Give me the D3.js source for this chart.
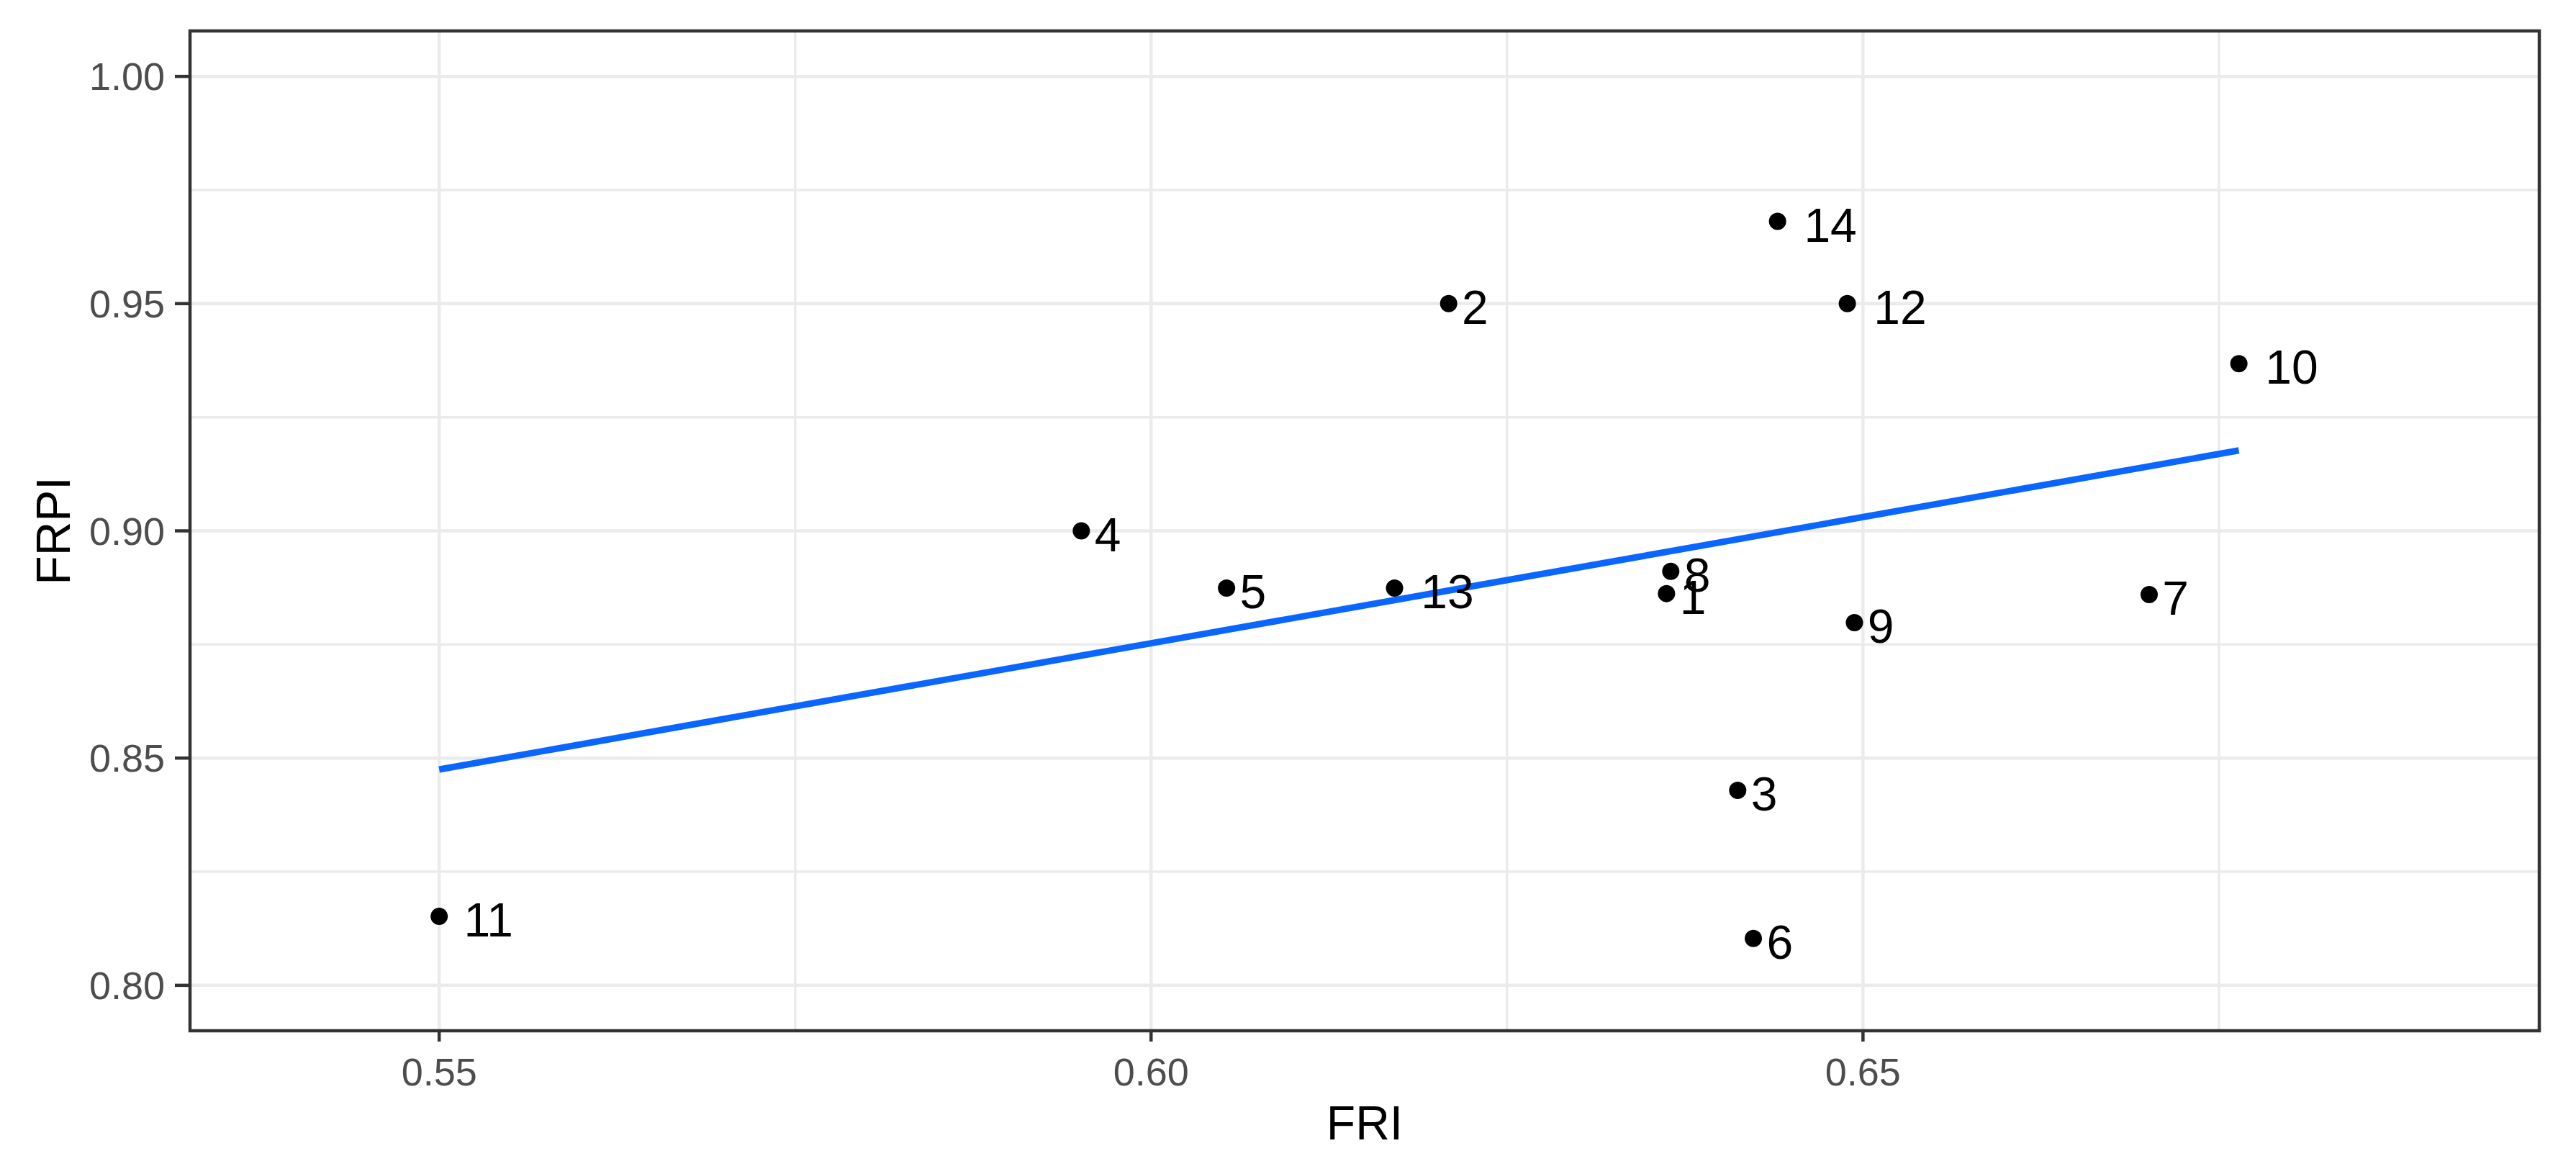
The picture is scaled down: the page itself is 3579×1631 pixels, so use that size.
<!DOCTYPE html>
<html>
<head>
<meta charset="utf-8">
<script src="https://cdn.jsdelivr.net/npm/d3@7"></script>
<style>
  html, body { margin: 0; padding: 0; background: #fff; }
  svg { display: block; }
</style>
</head>
<body>
<div id="chart"></div>
<script>
// Nuage FRI × FRPI, style ggplot theme_bw + droite de régression (lm)

// Données
const ids = ["1", "2", "3", "4", "5", "6", "7", "8", "9", "10", "11", "12", "13", "14"]
const fri = [0.6362, 0.6209, 0.6412, 0.5951, 0.6053, 0.6423, 0.6701, 0.6365, 0.6494, 0.6764, 0.5500, 0.6489, 0.6171, 0.6440]
const frpi = [0.8862, 0.9500, 0.8429, 0.9000, 0.8874, 0.8103, 0.8860, 0.8911, 0.8798, 0.9368, 0.8152, 0.9500, 0.8874, 0.9681]

// Droite ajustée (extrémités)
const fitX = [0.5500, 0.6764]
const fitY = [0.8475, 0.9177]

// Axes
const xMajor = [0.55, 0.60, 0.65]
const xMinor = [0.575, 0.625, 0.675]
const yMajor = [0.80, 0.85, 0.90, 0.95, 1.00]
const yMinor = [0.825, 0.875, 0.925, 0.975]
const xDomain = [0.5325, 0.6975]
const yDomain = [0.79, 1.01]
const xTitle = "FRI"
const yTitle = "FRPI"

const W = 3579, H = 1631
const margin = { top: 43, right: 51, bottom: 199, left: 264 }
const plotW = W - margin.left - margin.right
const plotH = H - margin.top - margin.bottom

const FONT = "'Liberation Sans', Arial, Helvetica, sans-serif"
const GRID = "#EBEBEB"
const INK = "#333333"

const svg = d3.select("#chart")
  .append("svg")
  .attr("width", W).attr("height", H)
  .attr("viewBox", `0 0 ${W} ${H}`)
  .style("background", "#fff")

const x = d3.scaleLinear().domain(xDomain).range([0, plotW])
const y = d3.scaleLinear().domain(yDomain).range([plotH, 0])

const g = svg.append("g").attr("transform", `translate(${margin.left},${margin.top})`)

// Grille : mineure puis majeure
g.append("g").selectAll("line.vminor").data(xMinor).join("line")
  .attr("x1", (d) => x(d)).attr("x2", (d) => x(d))
  .attr("y1", 0).attr("y2", plotH)
  .attr("stroke", GRID).attr("stroke-width", 3.5)
g.append("g").selectAll("line.hminor").data(yMinor).join("line")
  .attr("y1", (d) => y(d)).attr("y2", (d) => y(d))
  .attr("x1", 0).attr("x2", plotW)
  .attr("stroke", GRID).attr("stroke-width", 3.5)
g.append("g").selectAll("line.vmajor").data(xMajor).join("line")
  .attr("x1", (d) => x(d)).attr("x2", (d) => x(d))
  .attr("y1", 0).attr("y2", plotH)
  .attr("stroke", GRID).attr("stroke-width", 4.5)
g.append("g").selectAll("line.hmajor").data(yMajor).join("line")
  .attr("y1", (d) => y(d)).attr("y2", (d) => y(d))
  .attr("x1", 0).attr("x2", plotW)
  .attr("stroke", GRID).attr("stroke-width", 4.5)

// Droite de régression (bleu ggplot)
const fit = fitX.map((v, i) => [v, fitY[i]])
g.append("path")
  .datum(fit)
  .attr("fill", "none")
  .attr("stroke", "#0a66ff")
  .attr("stroke-width", 9)
  .attr("d", d3.line().x((d) => x(d[0])).y((d) => y(d[1])))

// Points
const pts = ids.map((id, i) => ({ id, fx: fri[i], fy: frpi[i] }))
g.selectAll("circle.pt").data(pts).join("circle")
  .attr("class", "pt")
  .attr("cx", (d) => x(d.fx)).attr("cy", (d) => y(d.fy))
  .attr("r", 12)
  .attr("fill", "#000")

// Étiquettes : hjust = -0.5 (décalage d'une demi-largeur de texte)
const labels = g.selectAll("text.lab").data(pts).join("text")
  .attr("class", "lab")
  .attr("font-family", FONT).attr("font-size", 66)
  .attr("fill", "#000")
  .attr("y", (d) => y(d.fy) + 28)
  .text((d) => d.id)
labels.each(function (d) {
  const w = this.getComputedTextLength()
  d3.select(this).attr("x", x(d.fx) + 0.5 * w)
})

// Cadre du panneau
g.append("rect")
  .attr("x", 0).attr("y", 0).attr("width", plotW).attr("height", plotH)
  .attr("fill", "none").attr("stroke", INK).attr("stroke-width", 4.5)

// Axe X : graduations + libellés
const xa = g.append("g").attr("transform", `translate(0,${plotH})`)
xa.selectAll("line").data(xMajor).join("line")
  .attr("x1", (d) => x(d)).attr("x2", (d) => x(d))
  .attr("y1", 2).attr("y2", 15)
  .attr("stroke", INK).attr("stroke-width", 4.5)
xa.selectAll("text").data(xMajor).join("text")
  .attr("x", (d) => x(d)).attr("y", 76)
  .attr("text-anchor", "middle")
  .attr("font-family", FONT).attr("font-size", 54)
  .attr("fill", "#4D4D4D")
  .text(d3.format(".2f"))

// Axe Y
const ya = g.append("g")
ya.selectAll("line").data(yMajor).join("line")
  .attr("y1", (d) => y(d)).attr("y2", (d) => y(d))
  .attr("x1", -21).attr("x2", -2)
  .attr("stroke", INK).attr("stroke-width", 4.5)
ya.selectAll("text").data(yMajor).join("text")
  .attr("x", -35).attr("y", (d) => y(d) + 19)
  .attr("text-anchor", "end")
  .attr("font-family", FONT).attr("font-size", 54)
  .attr("fill", "#4D4D4D")
  .text(d3.format(".2f"))

// Titres d'axes
svg.append("text")
  .attr("x", margin.left + plotW / 2).attr("y", 1583)
  .attr("text-anchor", "middle")
  .attr("font-family", FONT).attr("font-size", 66)
  .attr("fill", "#000")
  .text(xTitle)

svg.append("text")
  .attr("transform", `translate(97,${margin.top + plotH / 2}) rotate(-90)`)
  .attr("text-anchor", "middle")
  .attr("font-family", FONT).attr("font-size", 66)
  .attr("fill", "#000")
  .text(yTitle)
</script>
</body>
</html>
